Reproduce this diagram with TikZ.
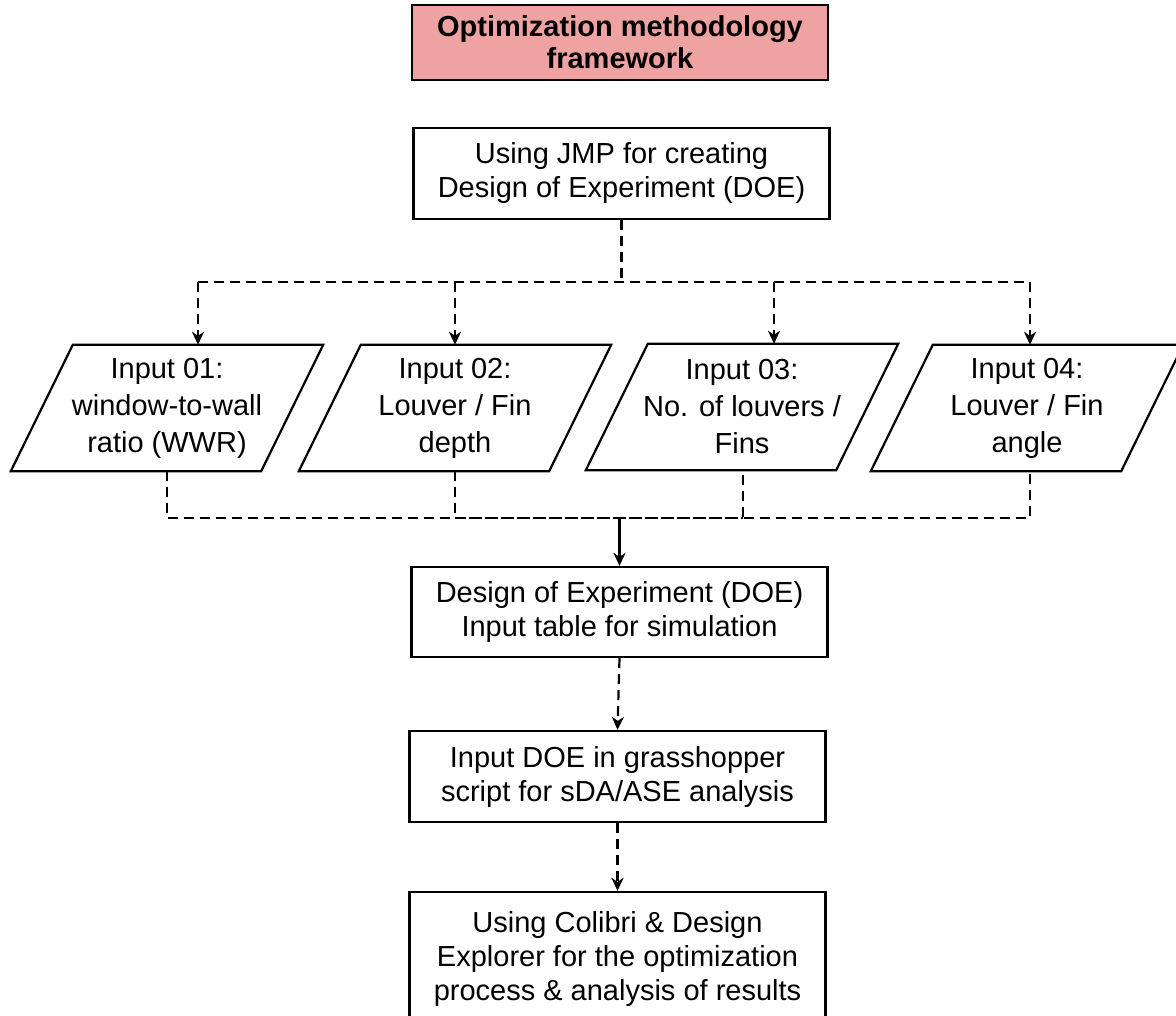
\documentclass[tikz,border=0pt]{standalone}
\usepackage{fontspec}
\setmainfont{Liberation Sans}
\usetikzlibrary{arrows.meta,calc}

\definecolor{titlepink}{HTML}{EEA2A1}

\tikzset{
  box/.style={draw, line width=2.2pt, align=center, inner sep=0pt,
    minimum width=416pt, font=\fontsize{29}{34}\selectfont},
  titlebox/.style={box, fill=titlepink, minimum height=75pt,
    font=\fontsize{29}{32}\selectfont\bfseries},
  paratext/.style={align=center, inner sep=0pt, minimum width=250pt,
    minimum height=126pt, font=\fontsize{29}{37}\selectfont},
  paraline/.style={line width=2.2pt, line join=miter},
  dsh/.style={line width=2.2pt, dash pattern=on 10pt off 6pt},
  tip/.style={-{Stealth[length=13pt,width=12pt,inset=4pt]}},
  flow/.style={line width=2.2pt, tip},
  dflow/.style={dsh, tip},
}

\begin{document}
\begin{tikzpicture}[x=1pt,y=-1pt]
\useasboundingbox (0,0) rectangle (1176,1016);
\fill[white] (0,0) rectangle (1176,1016);

% header and first step
\node[titlebox] (title) at (620,42.5) {Optimization methodology\\framework};
\node[box, minimum height=91pt] (jmp) at (621.5,173.5)
  {Using JMP for creating\\Design of Experiment (DOE)};

% the four input parameters (parallelograms)
\node[paratext] (p1) at (167,408) {Input 01:\\window-to-wall\\ratio (WWR)};
\node[paratext] (p2) at (455,408) {Input 02:\\Louver / Fin\\depth};
\node[paratext] (p3) at (742,407) {Input 03:\\No. of louvers /\\Fins};
\node[paratext] (p4) at (1027,408) {Input 04:\\Louver / Fin\\angle};
\foreach \p in {p1,p2,p3,p4}{
  \draw[paraline] ($(\p.south west)+(-31,0)$) -- ($(\p.south east)+(-31,0)$)
    -- ($(\p.north east)+(31,0)$) -- ($(\p.north west)+(31,0)$) -- cycle;
}

% later steps
\node[box, minimum height=90pt] (doe) at (619.5,612)
  {Design of Experiment (DOE)\\Input table for simulation};
\node[box, minimum height=91pt] (gh) at (617.5,776.5)
  {Input DOE in grasshopper\\script for sDA/ASE analysis};
\node[box, minimum height=134pt] (col) at (617.5,959)
  {Using Colibri \& Design\\Explorer for the optimization\\process \& analysis of results};

% split from the DOE step to the inputs
\coordinate (split) at (621.5,282);
\coordinate (a1) at (198,282);
\coordinate (a2) at (455,282);
\coordinate (a3) at (774,282);
\coordinate (a4) at (1030,282);
\draw[dsh] (jmp.south) -- (split);
\draw[dsh] (a1) -- (a4);
\foreach \a/\p in {a1/p1,a2/p2,a3/p3,a4/p4}{
  \draw[dflow] (\a) -- (\a |- \p.north);
}

% merge of the inputs into the DOE table
\coordinate (b1) at (167,518);
\coordinate (b2) at (455,518);
\coordinate (b3) at (743,518);
\coordinate (b4) at (1030,518);
\coordinate (merge) at (619.5,518);
\draw[dsh] (p1.south) -- (b1) -- (b4) -- (b4 |- p4.south);
\draw[dsh] (b2 |- p2.south) -- (b2) -- (b3) -- (b3 |- p3.south);
\draw[dsh, dash phase=8pt] (b3) -- (b2);
\draw[flow] (merge) -- (doe.north);

% sequential steps
\draw[dflow] (doe.south) -- (gh.north);
\draw[dflow] (gh.south) -- (col.north);
\end{tikzpicture}
\end{document}
